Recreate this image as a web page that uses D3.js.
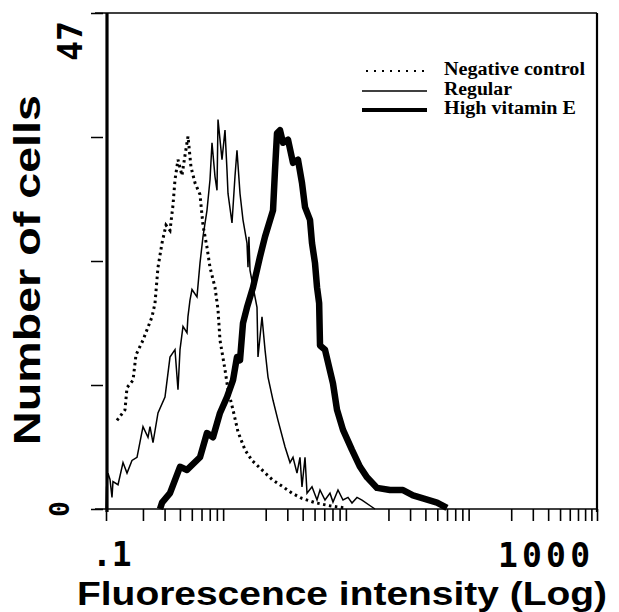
<!DOCTYPE html>
<meta charset="utf-8">
<head>
<script src="https://d3js.org/d3.v7.min.js"></script>
<style>
  body { margin: 0; background: #fff; }
  svg { display: block; }
</style>
</head>
<body>
<svg width="619" height="612" id="chart"></svg>
<script>
// histogram traces: [fluorescence intensity, number of cells]
var negativeControl = [
  [0.1229, 8.4], [0.1428, 9.4], [0.1483, 11.5], [0.1660, 12.2], [0.1755, 14.6],
  [0.2002, 16.0], [0.2369, 18.2], [0.2507, 19.5], [0.2652, 22.9], [0.2860, 25.2],
  [0.3082, 26.9], [0.3322, 26.4], [0.3514, 28.8], [0.3648, 31.2], [0.3859, 33.1],
  [0.4159, 31.6], [0.4400, 33.5], [0.4656, 35.3], [0.4925, 32.4], [0.5311, 30.9],
  [0.5831, 29.8], [0.6167, 26.9], [0.6648, 24.8], [0.7035, 22.9], [0.7726, 21.0],
  [0.8175, 18.9], [0.8486, 16.0], [0.9321, 13.2], [0.9860, 11.3], [1.083, 9.4],
  [1.190, 7.3], [1.356, 5.6], [1.547, 4.6], [1.866, 3.7], [2.251, 2.8],
  [2.767, 2.1], [3.276, 1.5], [3.951, 1.0], [5.043, 0.6], [6.680, 0.3], [8.851, 0.1]
];

var regular = [
  [0.1, 0], [0.101, 2.0], [0.1038, 3.4], [0.1078, 2.8], [0.1119, 1.1], [0.1140, 2.6],
  [0.1253, 2.3], [0.1376, 4.4], [0.1483, 3.4], [0.1628, 4.6], [0.1789, 4.9],
  [0.2002, 7.8], [0.2199, 6.8], [0.2283, 7.8], [0.2415, 6.3], [0.2652, 9.1],
  [0.3024, 10.6], [0.3322, 14.4], [0.3648, 15.1], [0.3859, 11.3], [0.4008, 15.1],
  [0.4239, 17.3], [0.4569, 16.7], [0.4650, 18.2], [0.4833, 19.8], [0.5019, 20.8],
  [0.5511, 20.1], [0.5831, 23.3], [0.6167, 25.8], [0.6648, 28.3], [0.7035, 31.2],
  [0.7304, 34.7], [0.7726, 31.5], [0.8023, 30.2], [0.8175, 36.9], [0.8810, 33.1],
  [0.9321, 35.9], [0.9676, 32.1], [0.9860, 29.9], [1.063, 27.1], [1.124, 31.5],
  [1.167, 34.0], [1.235, 29.9], [1.306, 27.4], [1.408, 25.2], [1.435, 22.9],
  [1.460, 25.8], [1.490, 22.6], [1.636, 20.1], [1.699, 19.1], [1.731, 14.4],
  [1.866, 18.2], [1.974, 15.1], [2.088, 12.5], [2.294, 10.3], [2.519, 8.4],
  [2.872, 5.9], [3.155, 4.4], [3.338, 4.9], [3.597, 3.4], [3.805, 4.9],
  [3.951, 2.1], [4.181, 4.9], [4.341, 1.5], [4.766, 2.1], [5.236, 0.85],
  [5.539, 1.8], [6.083, 0.85], [6.680, 1.5], [7.068, 0.66], [7.762, 1.8],
  [8.527, 0.85], [9.365, 1.1], [10.09, 0.57], [11.09, 1.1], [12.18, 0.85],
  [14.69, 0.19], [15.54, 0]
];

var highVitaminE = [
  [0.2754, 0], [0.2860, 0.6], [0.3322, 1.5], [0.4008, 4.0], [0.4569, 3.7],
  [0.5831, 4.9], [0.6648, 7.2], [0.7442, 6.8], [0.8486, 9.1], [0.9676, 10.6],
  [1.083, 12.2], [1.167, 14.4], [1.235, 14.1], [1.306, 17.6], [1.408, 19.1],
  [1.576, 21.0], [1.797, 23.9], [1.974, 25.8], [2.294, 28.3], [2.381, 32.1],
  [2.472, 35.6], [2.616, 35.9], [2.767, 34.7], [3.039, 35.0], [3.338, 32.8],
  [3.666, 33.1], [3.951, 30.9], [4.181, 28.6], [4.590, 27.4], [4.766, 25.2],
  [5.043, 23.3], [5.240, 21.0], [5.450, 19.5], [5.540, 15.5], [6.083, 15.1],
  [7.068, 11.9], [7.618, 9.4], [8.527, 7.5], [10.09, 5.6], [11.73, 4.0],
  [13.38, 3.0], [16.14, 2.0], [20.59, 1.8], [26.28, 1.8], [31.70, 1.3],
  [38.24, 1.0], [49.74, 0.6], [59.98, 0.1]
];

var legendLabels = ["Negative control", "Regular", "High vitamin E"];
var yTickValues = [0, 11.75, 23.5, 35.25, 47];
var yTickLabels = ["0", "47"];
var xTickLabels = [".1", "1000"];

var svg = d3.select("#chart");

var x = d3.scaleLog()
  .domain([0.1, 1000])
  .range([106, 597]);

var y = d3.scaleLinear()
  .domain([0, 47])
  .range([509, 13]);

// minor log ticks 2..9 of every decade, plus both ends
var xTicks = [0.1, 1000];
[0.1, 1, 10, 100].forEach(function(d) {
  for (var k = 2; k <= 9; k++) xTicks.push(d * k);
});

var xAxis = d3.axisBottom(x)
  .tickValues(xTicks)
  .tickSize(12)
  .tickFormat("");

var gx = svg.append("g")
  .attr("transform", "translate(0,509)")
  .call(xAxis);
gx.select(".domain").remove();
gx.selectAll(".tick line").attr("stroke", "#000").attr("stroke-width", 1.6);

var yAxis = d3.axisLeft(y)
  .tickValues(yTickValues)
  .tickSize(12)
  .tickFormat("");

var gy = svg.append("g")
  .attr("transform", "translate(103,0)")
  .call(yAxis);
gy.select(".domain").remove();
gy.selectAll(".tick line").attr("stroke", "#000").attr("stroke-width", 1.5);

// frame
svg.append("line")
  .attr("x1", 95).attr("x2", 597)
  .attr("y1", y(0)).attr("y2", y(0))
  .attr("stroke", "#000").attr("stroke-width", 1.5);
svg.append("line")
  .attr("x1", 95).attr("x2", 597)
  .attr("y1", y(47)).attr("y2", y(47))
  .attr("stroke", "#000").attr("stroke-width", 1.3);
svg.append("line")
  .attr("x1", 107).attr("x2", 107)
  .attr("y1", y(47)).attr("y2", y(0) + 3)
  .attr("stroke", "#000").attr("stroke-width", 3.2);
svg.append("line")
  .attr("x1", 597).attr("x2", 597)
  .attr("y1", y(47)).attr("y2", y(0) + 3)
  .attr("stroke", "#000").attr("stroke-width", 2.2);

var line = d3.line()
  .x(function(d) { return x(d[0]); })
  .y(function(d) { return y(d[1]); });

svg.append("path")
  .datum(negativeControl)
  .attr("d", line)
  .attr("fill", "none")
  .attr("stroke", "#000")
  .attr("stroke-width", 3)
  .attr("stroke-dasharray", "2.5,3.5");

svg.append("path")
  .datum(regular)
  .attr("d", line)
  .attr("fill", "none")
  .attr("stroke", "#000")
  .attr("stroke-width", 1.5)
  .attr("stroke-linejoin", "miter");

svg.append("path")
  .datum(highVitaminE)
  .attr("d", line)
  .attr("fill", "none")
  .attr("stroke", "#000")
  .attr("stroke-width", 6.5)
  .attr("stroke-linejoin", "round");

// legend
var legendRows = [
  { y: 75, dash: "2,6", width: 2.2, textLength: 141 },
  { y: 95, dash: null, width: 1.5, textLength: 68 },
  { y: 114, dash: null, width: 4, textLength: 132 }
];

legendRows.forEach(function(r, i) {
  svg.append("line")
    .attr("x1", i == 0 ? 366 : 362).attr("x2", 427)
    .attr("y1", r.y - 4).attr("y2", r.y - 4)
    .attr("stroke", "#000")
    .attr("stroke-width", r.width)
    .attr("stroke-dasharray", r.dash);
  svg.append("text")
    .attr("x", 444).attr("y", r.y)
    .attr("font-family", "'Liberation Serif', 'Times New Roman', serif")
    .attr("font-weight", "bold")
    .attr("font-size", 18)
    .attr("textLength", r.textLength)
    .attr("lengthAdjust", "spacingAndGlyphs")
    .text(legendLabels[i]);
});

// tick labels
var mono = "'DejaVu Sans Mono', 'Liberation Mono', monospace";

svg.append("text")
  .attr("x", 92).attr("y", 566)
  .attr("font-family", mono).attr("font-weight", "bold").attr("font-size", 33)
  .text(xTickLabels[0]);

svg.append("text")
  .attr("x", 498).attr("y", 567)
  .attr("font-family", mono).attr("font-weight", "bold").attr("font-size", 33)
  .attr("textLength", 92)
  .text(xTickLabels[1]);

svg.append("text")
  .attr("transform", "translate(69," + y(0) + ") rotate(-90)")
  .attr("text-anchor", "middle")
  .attr("font-family", mono).attr("font-weight", "bold").attr("font-size", 26)
  .text(yTickLabels[0]);

svg.append("text")
  .attr("transform", "translate(82,41) rotate(-90)")
  .attr("text-anchor", "middle")
  .attr("font-family", mono).attr("font-weight", "bold").attr("font-size", 33)
  .text(yTickLabels[1]);

// axis titles
svg.append("text")
  .attr("transform", "translate(40,270) rotate(-90)")
  .attr("text-anchor", "middle")
  .attr("font-family", "'Liberation Sans', Arial, sans-serif")
  .attr("font-weight", "bold")
  .attr("font-size", 36)
  .attr("textLength", 350)
  .attr("lengthAdjust", "spacingAndGlyphs")
  .text("Number of cells");

svg.append("text")
  .attr("x", 342).attr("y", 605)
  .attr("text-anchor", "middle")
  .attr("font-family", "'Liberation Sans', Arial, sans-serif")
  .attr("font-weight", "bold")
  .attr("font-size", 33)
  .attr("textLength", 530)
  .attr("lengthAdjust", "spacingAndGlyphs")
  .text("Fluorescence intensity (Log)");
</script>
</body>
